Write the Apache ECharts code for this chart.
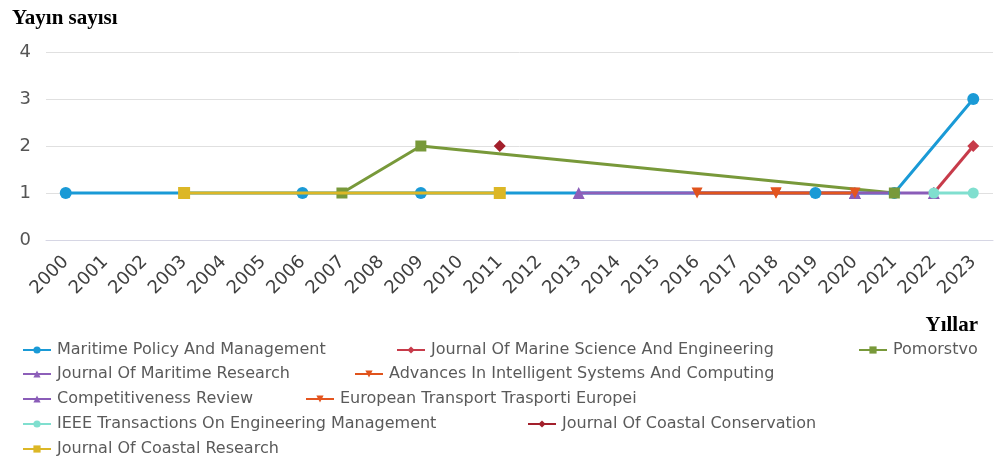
<!DOCTYPE html>
<html>
<head>
<meta charset="utf-8">
<script src="https://cdn.jsdelivr.net/npm/echarts@6/dist/echarts.min.js"></script>
<style>html,body{margin:0;padding:0;background:#fff}#c{width:998px;height:466px}</style>
</head>
<body>
<div id="c"></div>
<script>
// ---- data ----
const years = ['2000','2001','2002','2003','2004','2005','2006','2007','2008','2009','2010','2011','2012','2013','2014','2015','2016','2017','2018','2019','2020','2021','2022','2023'];
const yTicks = [0, 1, 2, 3, 4];
const seriesNames = [
  'Maritime Policy And Management',
  'Journal Of Marine Science And Engineering',
  'Pomorstvo',
  'Journal Of Maritime Research',
  'Advances In Intelligent Systems And Computing',
  'Competitiveness Review',
  'European Transport Trasporti Europei',
  'IEEE Transactions On Engineering Management',
  'Journal Of Coastal Conservation',
  'Journal Of Coastal Research'
];
//                         2000 01   02   03   04   05   06   07   08   09   10   11   12   13   14   15   16   17   18   19   20   21   22   23
const maritimePolicy   = [1,   null,null,null,null,null,1,   null,null,1,   null,null,null,null,null,null,null,null,null,1,   null,1,   null,3];
const marineScience    = [null,null,null,null,null,null,null,null,null,null,null,null,null,null,null,null,null,null,null,null,null,null,1,   2];
const pomorstvo        = [null,null,null,null,null,null,null,1,   null,2,   null,null,null,null,null,null,null,null,null,null,null,1,   null,null];
const maritimeResearch = [null,null,null,null,null,null,null,null,null,null,null,null,null,1,   null,null,null,null,null,null,1,   null,null,null];
const advancesIntSys   = [null,null,null,null,null,null,null,null,null,null,null,null,null,null,null,null,1,   null,1,   null,null,null,null,null];
const competitiveness  = [null,null,null,null,null,null,null,null,null,null,null,null,null,null,null,null,null,null,null,null,1,   null,1,   null];
const europeanTransport= [null,null,null,null,null,null,null,null,null,null,null,null,null,null,null,null,null,null,1,   null,1,   null,null,null];
const ieeeTrans        = [null,null,null,null,null,null,null,null,null,null,null,null,null,null,null,null,null,null,null,null,null,null,1,   1];
const coastalConserv   = [null,null,null,null,null,null,null,null,null,null,null,2,   null,null,null,null,null,null,null,null,null,null,null,null];
const coastalResearch  = [null,null,null,1,   null,null,null,null,null,null,null,1,   null,null,null,null,null,null,null,null,null,null,null,null];
const seriesValues = [maritimePolicy, marineScience, pomorstvo, maritimeResearch, advancesIntSys, competitiveness, europeanTransport, ieeeTrans, coastalConserv, coastalResearch];

// ---- styles ----
const colors  = ['#1a9ad6','#c73b4a','#78993a','#8d5fb9','#e0531c','#8a5cb8','#e4551f','#80dfcf','#a3202c','#dcb726'];
const symbols = ['circle','diamond','rect','triangle','path://M0,0 L10,0 L5,10 Z','triangle','path://M0,0 L10,0 L5,10 Z','circle','diamond','rect'];
const symSizes = [12, 12, 11, 12, 11, 12, 11, 11, 12, 12];
const zLevels = [2, 2, 2, 2, 2, 2, 2, 4, 2, 3];
// legend item placement (left x, top y)
const legendPos = [[22,342],[396,342],[858,342],[22,366],[354,366],[22,391],[305,391],[22,416],[527,416],[22,441]];

const FONT = 'DejaVu Sans';
const chart = echarts.init(document.getElementById('c'), null, {renderer: 'canvas'});

const series = seriesNames.map((n, i) => ({
  name: n,
  type: 'line',
  data: seriesValues[i],
  connectNulls: true,
  z: zLevels[i],
  symbol: symbols[i],
  symbolSize: symSizes[i],
  showSymbol: true,
  showAllSymbol: true,
  lineStyle: {width: 3, color: colors[i]},
  itemStyle: {color: colors[i]},
  emphasis: {disabled: true},
  animation: false
}));

const legends = seriesNames.map((n, i) => ({
  data: [n],
  left: legendPos[i][0],
  top: legendPos[i][1],
  orient: 'horizontal',
  itemWidth: 28,
  itemHeight: 9,
  itemGap: 0,
  padding: 0,
  textStyle: {fontFamily: FONT, fontSize: 16, color: '#5a5a5a', padding: [0,0,0,1]}
}));

chart.setOption({
  animation: false,
  color: colors,
  title: [
    {text: 'Yayın sayısı', left: 7, top: 3, textStyle: {fontFamily: 'Liberation Serif', fontWeight: 'bold', fontSize: 21, color: '#000'}},
    {text: 'Yıllar', right: 15, top: 310, textStyle: {fontFamily: 'Liberation Serif', fontWeight: 'bold', fontSize: 21, color: '#000'}}
  ],
  legend: legends,
  grid: {left: 46, right: 5, top: 52, height: 188, containLabel: false},
  xAxis: {
    type: 'category',
    data: years,
    boundaryGap: true,
    axisTick: {show: false},
    axisLine: {show: true, lineStyle: {color: '#d6d6e4', width: 1}},
    axisLabel: {interval: 0, rotate: 45, margin: 19, fontFamily: FONT, fontSize: 18, color: '#404040'},
    splitLine: {show: false}
  },
  yAxis: {
    type: 'value',
    min: yTicks[0],
    max: yTicks[yTicks.length - 1],
    interval: 1,
    axisLine: {show: false},
    axisTick: {show: false},
    axisLabel: {margin: 15, fontFamily: FONT, fontSize: 18, color: '#555'},
    splitLine: {show: true, lineStyle: {color: '#e0e0e0', width: 1}}
  },
  series: series
});
</script>
</body>
</html>
